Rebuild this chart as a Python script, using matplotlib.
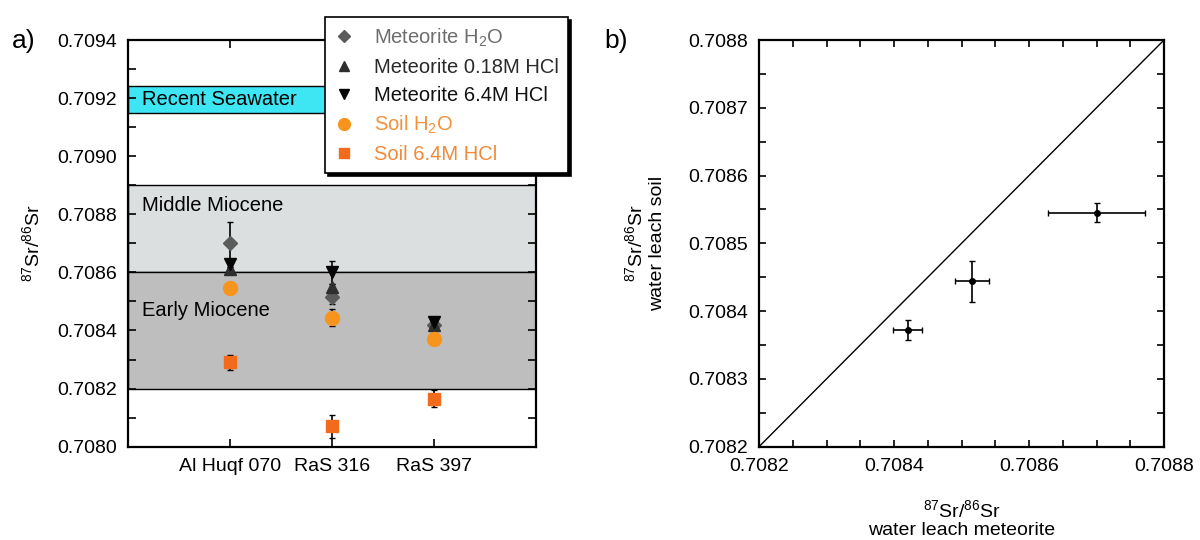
import numpy as np
import matplotlib
matplotlib.use('Agg')
import matplotlib.pyplot as plt
from matplotlib.ticker import MultipleLocator, FormatStrFormatter

plt.rcParams['font.family'] = ['Liberation Sans', 'DejaVu Sans']
plt.rcParams['mathtext.default'] = 'regular'

samples = ['Al Huqf 070', 'RaS 316', 'RaS 397']

met_h2o = [0.70870, 0.708515, 0.70842]
met_h2o_err = [0.000072, 0.000025, 0.000022]
met_018 = [0.70861, 0.70855, 0.70842]
met_018_err = [0.00001, 0.00001, 0.00001]
met_64 = [0.70863, 0.70860, 0.70843]
met_64_err = [0.00001, 0.00004, 0.00001]
soil_h2o = [0.708545, 0.708444, 0.708372]
soil_h2o_err = [0.000014, 0.00003, 0.000015]
soil_64 = [0.70829, 0.70807, 0.708165]
soil_64_err = [0.000027, 0.00004, 0.00003]

seawater = (0.70915, 0.70924)
middle_miocene = (0.7086, 0.7089)
early_miocene = (0.7082, 0.7086)

lims_b = [0.7082, 0.7088]

sr_label = r'$^{87}$Sr/$^{86}$Sr'

fig = plt.figure(figsize=(12, 5.4), dpi=100)

# ---- panel a
ax1 = fig.add_axes([0.1067, 0.1728, 0.34, 0.7531])
x = np.arange(1, len(samples) + 1)

ax1.axhspan(*seawater, facecolor='#3de6f2', edgecolor='black', lw=1, zorder=0)
ax1.axhspan(*middle_miocene, facecolor='#dcdfdf', edgecolor='black', lw=1, zorder=0)
ax1.axhspan(*early_miocene, facecolor='#bebebe', edgecolor='black', lw=1, zorder=0)

ax1.text(0.14, sum(seawater) / 2, 'Recent Seawater', va='center', fontsize=14.5)
ax1.text(0.14, 0.70883, 'Middle Miocene', va='center', fontsize=14.5)
ax1.text(0.14, 0.70847, 'Early Miocene', va='center', fontsize=14.5)

series = [
    (met_h2o, met_h2o_err, 'D', '#5b5b5b', 7, 'Meteorite H$_2$O', '#6e6e6e'),
    (met_018, met_018_err, '^', '#2e2e2e', 8, 'Meteorite 0.18M HCl', '#2a2a2a'),
    (met_64, met_64_err, 'v', '#050505', 8, 'Meteorite 6.4M HCl', '#111111'),
    (soil_h2o, soil_h2o_err, 'o', '#f7941d', 10, 'Soil H$_2$O', '#f3923a'),
    (soil_64, soil_64_err, 's', '#f26b1d', 8, 'Soil 6.4M HCl', '#f08a3a'),
]
label_colors = []
for vals, err, mk, col, ms, lab, tcol in series:
    ax1.errorbar(x, vals, yerr=err, fmt='none', ecolor='black', elinewidth=1.2, capsize=2.5, zorder=3)
    ax1.plot(x, vals, mk, color=col, ms=ms, mec=col, label=lab, zorder=4)
    label_colors.append(tcol)

ax1.set_xlim(0, 4)
ax1.set_ylim(0.7080, 0.7094)
ax1.set_xticks(x)
ax1.set_xticklabels(samples)
ax1.yaxis.set_major_locator(MultipleLocator(0.0002))
ax1.yaxis.set_minor_locator(MultipleLocator(0.0001))
ax1.yaxis.set_major_formatter(FormatStrFormatter('%.4f'))
ax1.tick_params(which='both', direction='in', top=True, right=True, length=5.5, width=1.2, labelsize=14, pad=8)
for sp in ax1.spines.values():
    sp.set_linewidth(1.6)
ax1.set_ylabel(sr_label, fontsize=14)
ax1.yaxis.set_label_coords(-0.208, 0.5)

leg = ax1.legend(loc='upper left', bbox_to_anchor=(0.483, 1.056), borderaxespad=0,
                 fancybox=False, framealpha=1, edgecolor='black',
                 shadow={'color': 'black', 'alpha': 1},
                 labelcolor=label_colors, handlelength=1.0, handletextpad=1.0,
                 labelspacing=0.45, borderpad=0.45, fontsize=14.5, markerscale=0.85)
leg.get_frame().set_linewidth(1.2)

# ---- panel b
ax2 = fig.add_axes([0.6325, 0.1728, 0.3375, 0.7531])
ax2.plot(lims_b, lims_b, color='black', lw=1)
ax2.errorbar(met_h2o, soil_h2o, xerr=met_h2o_err, yerr=soil_h2o_err, fmt='o', color='black',
             ms=4, elinewidth=1.2, capsize=2.5)
ax2.set_xlim(*lims_b)
ax2.set_ylim(*lims_b)
ax2.xaxis.set_major_locator(MultipleLocator(0.0002))
ax2.xaxis.set_minor_locator(MultipleLocator(0.00005))
ax2.yaxis.set_major_locator(MultipleLocator(0.0001))
ax2.yaxis.set_minor_locator(MultipleLocator(0.00005))
ax2.xaxis.set_major_formatter(FormatStrFormatter('%.4f'))
ax2.yaxis.set_major_formatter(FormatStrFormatter('%.4f'))
ax2.tick_params(which='both', direction='in', top=True, right=True, length=5, width=1.2, labelsize=14, pad=8)
for sp in ax2.spines.values():
    sp.set_linewidth(1.6)
ax2.set_ylabel(sr_label + '\nwater leach soil', fontsize=14)
ax2.yaxis.set_label_coords(-0.23, 0.5)
ax2.set_xlabel(sr_label + '\nwater leach meteorite', fontsize=14, linespacing=1.1)
ax2.xaxis.set_label_coords(0.5, -0.128)

fig.text(0.01, 0.924, 'a)', fontsize=19, va='center')
fig.text(0.504, 0.924, 'b)', fontsize=19, va='center')

fig.savefig('out.png', dpi=100)
